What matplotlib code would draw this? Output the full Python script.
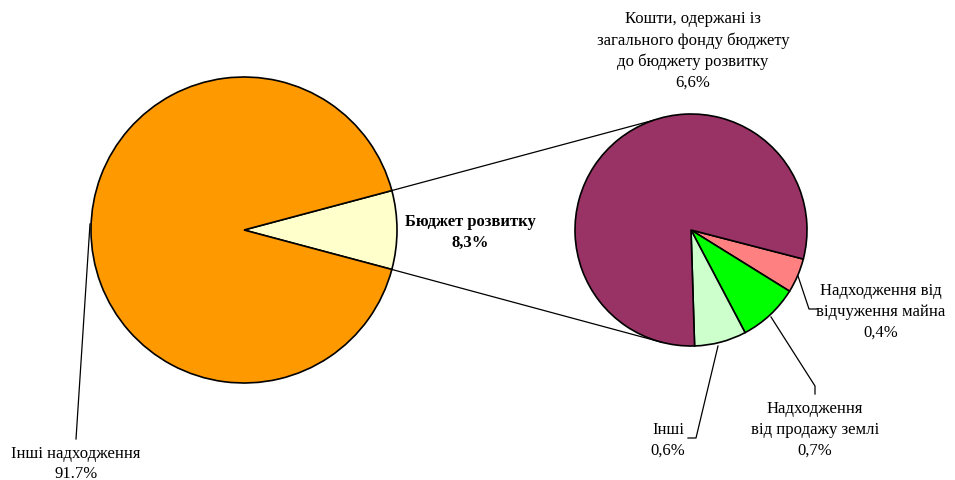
import matplotlib
matplotlib.use("Agg")
import matplotlib.pyplot as plt
import numpy as np

# ---- data ----
main_labels = ["Бюджет розвитку", "Інші надходження"]
main_values = [8.3, 91.7]
main_texts = ["8,3%", "91.7%"]
sub_labels = ["Надходження від\nвідчуження майна",
              "Надходження\nвід продажу землі",
              "Інші",
              "Кошти, одержані із\nзагального фонду бюджету\nдо бюджету розвитку"]
sub_values = [0.4, 0.7, 0.6, 6.6]
sub_texts = ["0,4%", "0,7%", "0,6%", "6,6%"]

main_colors = ["#FFFFCC", "#FF9900"]
sub_colors = ["#FF8080", "#00FF00", "#CCFFCC", "#993366"]

plt.rcParams['font.family'] = ['Liberation Serif', 'DejaVu Serif']

W, H = 955, 481
fig = plt.figure(figsize=(W / 100, H / 100), dpi=100)
ax = fig.add_axes([0, 0, 1, 1])

def Y(py):
    return H - py

# main pie
c1 = (244, Y(231)); r1 = 153
ang_main = main_values[0] / sum(main_values) * 360
ax.pie(main_values, colors=main_colors, center=c1, radius=r1,
       startangle=-ang_main / 2, counterclock=True,
       wedgeprops=dict(edgecolor="black", linewidth=1.2))

# sub pie
c2 = (691, Y(231)); r2 = 116
ax.pie(sub_values, colors=sub_colors, center=c2, radius=r2,
       startangle=-14.5, counterclock=False,
       wedgeprops=dict(edgecolor="black", linewidth=1.2))

ax.set_xlim(0, W)
ax.set_ylim(0, H)
ax.set_aspect('equal')
ax.axis('off')

# connecting lines
a = np.deg2rad(ang_main / 2)
p_top = (c1[0] + r1 * np.cos(a), c1[1] + r1 * np.sin(a))
p_bot = (c1[0] + r1 * np.cos(a), c1[1] - r1 * np.sin(a))
q_top = (c2[0] + r2 * np.cos(np.deg2rad(109)), c2[1] + r2 * np.sin(np.deg2rad(109)))
q_bot = (c2[0] + r2 * np.cos(np.deg2rad(-104.7)), c2[1] + r2 * np.sin(np.deg2rad(-104.7)))
ax.plot([p_top[0], q_top[0]], [p_top[1], q_top[1]], color="black", lw=0.9)
ax.plot([p_bot[0], q_bot[0]], [p_bot[1], q_bot[1]], color="black", lw=0.9)

fs = 12
ls = 1.4
# labels
ax.text(470, Y(232), main_labels[0] + "\n" + main_texts[0], ha="center", va="center",
        fontsize=fs, fontweight="bold", linespacing=ls)
ax.text(76, Y(464), main_labels[1] + "\n" + main_texts[1], ha="center", va="center",
        fontsize=fs, linespacing=ls)
ax.text(693, Y(51), sub_labels[3] + "\n" + sub_texts[3], ha="center", va="center",
        fontsize=fs, linespacing=ls)
ax.text(881, Y(312), sub_labels[0] + "\n" + sub_texts[0], ha="center", va="center",
        fontsize=fs, linespacing=ls)
ax.text(815, Y(430), sub_labels[1] + "\n" + sub_texts[1], ha="center", va="center",
        fontsize=fs, linespacing=ls)
ax.text(668, Y(440), sub_labels[2] + "\n" + sub_texts[2], ha="center", va="center",
        fontsize=fs, linespacing=ls)

# leader lines
def leader(pts):
    xs = [p[0] for p in pts]
    ys = [Y(p[1]) for p in pts]
    ax.plot(xs, ys, color="black", lw=0.9)

leader([(90, 225), (76, 440)])
leader([(798, 277), (809, 310), (817, 310)])
leader([(771, 318), (815, 387), (815, 395)])
leader([(718, 347), (696, 439), (688, 439)])

fig.savefig("out.png", dpi=100)
